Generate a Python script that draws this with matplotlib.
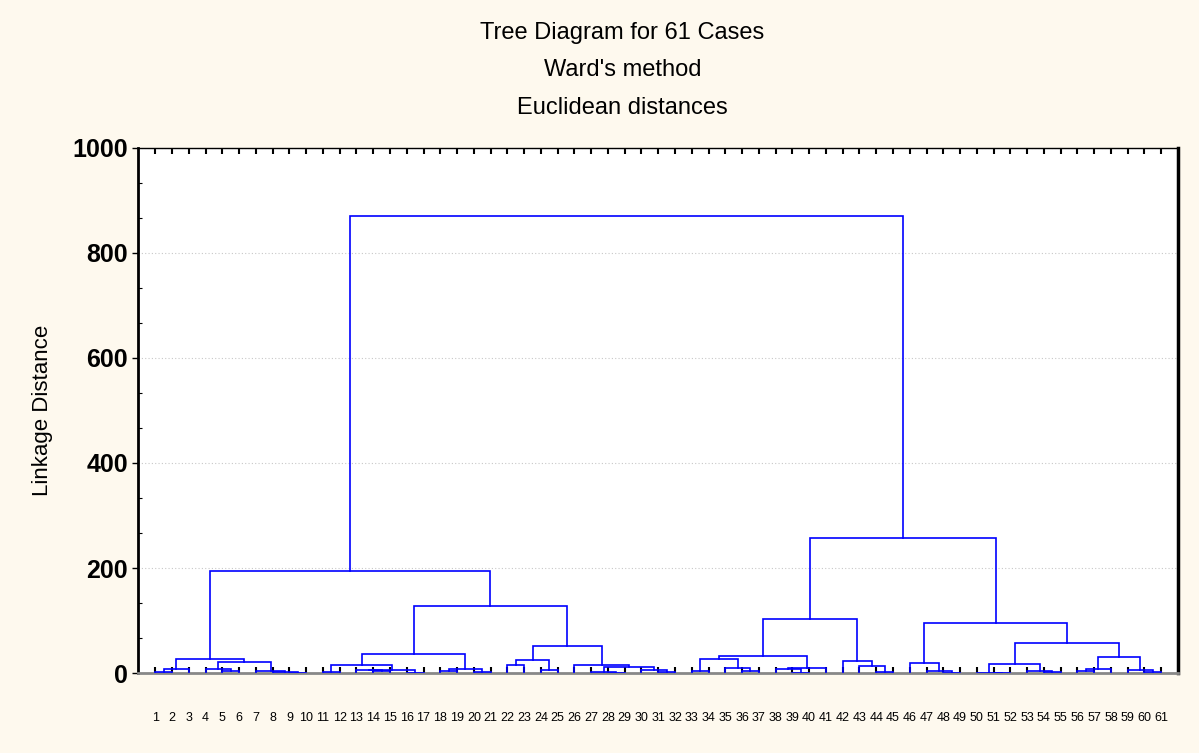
import numpy as np
import matplotlib
matplotlib.use('Agg')
import matplotlib.pyplot as plt
from matplotlib.ticker import MultipleLocator

# leaf labels, left to right
case_labels = [str(i) for i in range(1, 62)]

# linkage rows: ids 0-60 are leaves (in drawing order), new clusters get 61, 62, ...
link_left = [0, 61, 4, 3, 8, 7, 6, 64, 62,
             10, 13, 12, 15, 72, 70, 17, 19, 76, 75,
             21, 23, 80,
             27, 26, 30, 29, 84, 25, 82, 79, 69,
             32, 35, 34, 92, 38, 37, 97, 95,
             43, 42, 41, 99,
             47, 46, 45,
             50, 49, 53, 52, 108,
             55, 112, 59, 58, 113, 111, 106, 103, 91]
link_right = [1, 2, 5, 63, 9, 65, 66, 67, 68,
              11, 14, 71, 16, 73, 74, 18, 20, 77, 78,
              22, 24, 81,
              28, 83, 31, 85, 86, 87, 88, 89, 90,
              33, 36, 93, 94, 39, 96, 40, 98,
              44, 100, 101, 102,
              48, 104, 105,
              51, 107, 54, 109, 110,
              56, 57, 60, 114, 115, 116, 117, 118, 119]
link_height = [2.0, 8.4, 3.5, 8.4, 0.5, 2.0, 3.9, 21.1, 27.5,
               2.0, 3.3, 5.2, 0.5, 6.5, 16.0, 3.9, 2.0, 8.4, 36.0,
               14.8, 5.2, 24.3,
               0.8, 2.0, 2.0, 5.2, 11.6, 14.8, 51.5, 128.0, 193.5,
               3.9, 3.3, 10.3, 27.5, 0.5, 8.4, 10.3, 33.5,
               2.0, 12.8, 22.4, 104.0,
               0.8, 3.9, 19.2,
               0.5, 1.0, 2.0, 3.9, 17.9,
               3.9, 8.4, 2.0, 6.5, 31.0, 58.0, 96.0, 257.0, 869.0]

titles = ["Tree Diagram for 61 Cases", "Ward's method", "Euclidean distances"]

bg = '#fef9ee'
fig = plt.figure(figsize=(11.99, 7.53), dpi=100, facecolor=bg)
ax = fig.add_axes([0.1155, 0.106, 0.867, 0.698])
ax.set_facecolor('white')

n = len(case_labels)
xpos = {i: i + 1.0 for i in range(n)}
ypos = {i: 0.0 for i in range(n)}
for k in range(len(link_height)):
    a, b, h = link_left[k], link_right[k], link_height[k]
    xa, xb = xpos[a], xpos[b]
    ax.plot([xa, xa, xb, xb], [ypos[a], h, h, ypos[b]], color='#0000ff', lw=1.2,
            solid_joinstyle='miter', zorder=3)
    xpos[n + k] = (xa + xb) / 2
    ypos[n + k] = h

ax.set_xlim(0, n + 1)
ax.set_ylim(0, 1000)
ax.yaxis.set_major_locator(MultipleLocator(200))
ax.yaxis.set_minor_locator(MultipleLocator(200 / 3))
ax.grid(axis='y', which='major', color='#c8c8c8', ls=(0, (1, 2)), lw=0.8)
ax.set_axisbelow(True)

ax.set_xticks(range(1, n + 1))
ax.set_xticklabels(case_labels, fontsize=9, family='Liberation Sans')
ax.tick_params(axis='x', direction='in', length=4, width=1.5, color='black', pad=28,
               top=True)
ax.tick_params(axis='y', which='major', direction='out', length=4, width=1,
               labelsize=18)
ax.tick_params(axis='y', which='minor', direction='in', length=3, width=0.8)
for lab in ax.get_yticklabels():
    lab.set_fontweight('bold')
    lab.set_family('Liberation Sans')

ax.spines['left'].set_linewidth(2)
ax.spines['right'].set_linewidth(2.5)
ax.spines['top'].set_linewidth(1)
ax.spines['bottom'].set_linewidth(2)
ax.spines['bottom'].set_color('#888888')

ax.set_ylabel('Linkage Distance', fontsize=16, family='Liberation Sans', labelpad=14)

for t, yy in zip(titles, [33, 70, 108]):
    fig.text(0.519, 1 - yy / 753, t, ha='center', va='center', fontsize=17,
             family='Liberation Sans')

fig.savefig('out.png', dpi=100, facecolor=bg)
